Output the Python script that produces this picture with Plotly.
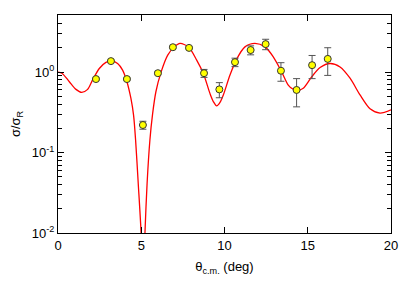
import plotly.graph_objects as go

# Experimental data (theta c.m. in deg, sigma/sigma_R, error)
theta_exp = [2.28, 3.18, 4.14, 5.10, 6.00, 6.90, 7.87, 8.77, 9.69, 10.63, 11.57, 12.47, 13.39, 14.33, 15.26, 16.20]
ratio_exp = [0.82, 1.37, 0.82, 0.22, 0.97, 2.04, 2.00, 0.97, 0.61, 1.33, 1.88, 2.23, 1.04, 0.60, 1.22, 1.46]
err_exp = [0.03, 0.05, 0.03, 0.025, 0.04, 0.07, 0.07, 0.11, 0.13, 0.16, 0.24, 0.33, 0.27, 0.23, 0.39, 0.55]

# Calculated curve
theta_calc = [0.00, 0.24, 0.68, 1.08, 1.42, 1.78, 2.08, 2.48, 2.88, 3.22, 3.58, 3.88, 4.14, 4.38,
              4.54, 4.66, 4.82, 4.98, 5.06, 5.10, 5.14, 5.23, 5.35, 5.52, 5.68, 5.88, 6.19, 6.59,
              6.99, 7.33, 7.83, 8.33, 8.73, 9.13, 9.33, 9.53, 9.73, 9.93, 10.33, 10.73, 11.23, 11.83, 12.43,
              12.93, 13.43, 13.83, 14.08, 14.33, 14.73, 15.23, 15.74, 16.34, 16.94, 17.54, 18.14, 18.74,
              19.34, 20.00]
ratio_calc = [1.00, 0.97, 0.76, 0.61, 0.56, 0.61, 0.80, 1.11, 1.32, 1.38, 1.28, 1.06, 0.76, 0.47,
              0.29, 0.143, 0.041, 0.011, 0.003, 0.0012, 0.003, 0.011, 0.041, 0.143, 0.30, 0.57, 1.00, 1.63,
              2.06, 2.27, 2.06, 1.41, 0.96, 0.54, 0.43, 0.38, 0.42, 0.52, 0.92, 1.45, 2.06, 2.27, 2.06,
              1.55, 1.01, 0.69, 0.62, 0.59, 0.63, 0.87, 1.14, 1.28, 1.16, 0.84, 0.52, 0.35,
              0.31, 0.34]

y_tickvals = [0.01, 0.1, 1]
y_ticktext = ["10<sup>-2</sup>", "10<sup>-1</sup>", "10<sup>0</sup>"]
x_tickvals = [0, 5, 10, 15, 20]

minor_vals = [m * d for d in (0.01, 0.1, 1) for m in range(2, 10)]

fig = go.Figure()
fig.add_trace(go.Scatter(
    x=theta_calc, y=ratio_calc, mode="lines",
    line=dict(color="#ff0000", width=1.3, shape="spline", smoothing=0.8),
    showlegend=False, hoverinfo="skip",
))
fig.add_trace(go.Scatter(
    x=theta_exp, y=ratio_exp, mode="markers",
    marker=dict(color="#ffff00", size=7, line=dict(color="#333333", width=1)),
    error_y=dict(type="data", array=err_exp, visible=True, color="#555555", thickness=1, width=3.5),
    showlegend=False,
))

# page body has an 8px default margin, so the figure is sized to fit the 415x290 window
fig.update_layout(
    width=407, height=282,
    margin=dict(l=50, r=24, t=7, b=57),
    paper_bgcolor="white", plot_bgcolor="white",
    font=dict(family="Liberation Sans, Arial, sans-serif", size=13, color="black"),
)
fig.update_xaxes(
    range=[0, 20], tickvals=x_tickvals, ticks="inside", ticklen=6, tickcolor="black",
    showline=True, linecolor="black", linewidth=1.3, mirror="allticks", showgrid=False, zeroline=False,
    automargin=False,
    title=dict(text="θ<sub>c.m.</sub> (deg)", standoff=10, font=dict(size=13)),
    tickfont=dict(size=13),
)
fig.update_yaxes(
    type="log", range=[-2, 0.71], tickvals=y_tickvals, ticktext=y_ticktext,
    ticks="inside", ticklen=6, tickcolor="black",
    showline=True, linecolor="black", linewidth=1.3, mirror="allticks", showgrid=False, zeroline=False,
    automargin=False,
    minor=dict(tickvals=minor_vals, ticks="inside", ticklen=3.5, tickcolor="black", showgrid=False),
    title=dict(text="σ/σ<sub>R</sub>", standoff=8, font=dict(size=13)),
    tickfont=dict(size=13),
)

fig.write_html("out.html")
